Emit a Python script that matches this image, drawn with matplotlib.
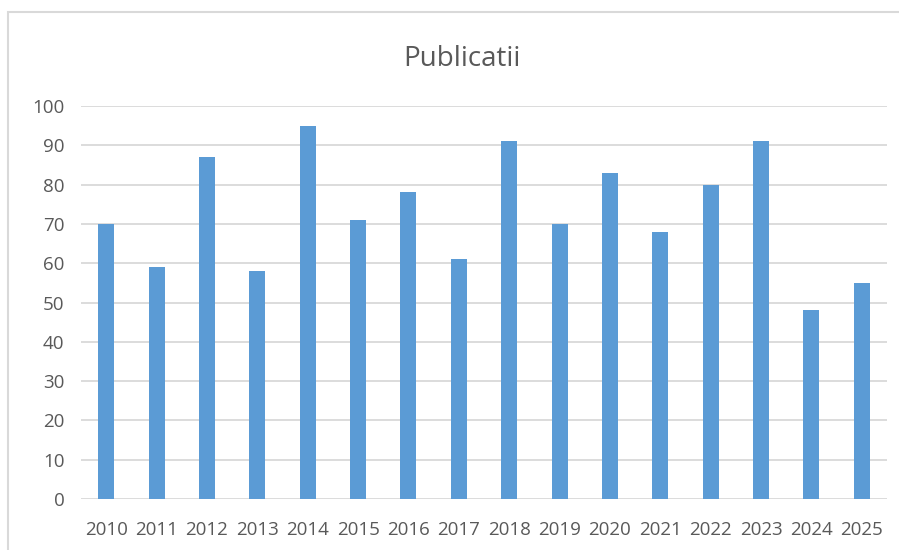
import matplotlib.pyplot as plt
from matplotlib.patches import Rectangle
import numpy as np

years = ["2010", "2011", "2012", "2013", "2014", "2015", "2016", "2017",
         "2018", "2019", "2020", "2021", "2022", "2023", "2024", "2025"]
publicatii = [70, 59, 87, 58, 95, 71, 78, 61, 91, 70, 83, 68, 80, 91, 48, 55]
y_ticks = [0, 10, 20, 30, 40, 50, 60, 70, 80, 90, 100]

plt.rcParams["font.family"] = ["Open Sans", "DejaVu Sans"]

W, H = 899, 550
fig = plt.figure(figsize=(W / 100, H / 100), dpi=100)
fig.patch.set_facecolor("white")

# chart frame (cut off on right/bottom like the screenshot)
fig.add_artist(Rectangle((8 / W, -0.1), 1.2, 1 - 12 / H + 0.1,
                         transform=fig.transFigure, fill=False,
                         edgecolor="#d9d9d9", linewidth=1.5))

ax = fig.add_axes([81 / W, (H - 499) / H, (887 - 81) / W, (499 - 106) / H])
x = np.arange(len(years))
ax.bar(x, publicatii, width=0.32, color="#5b9bd5", zorder=3)

ax.set_xlim(-0.5, len(years) - 0.5)
ax.set_ylim(0, 100)
ax.set_yticks(y_ticks)
ax.set_xticks(x)
ax.set_xticklabels(years)
ax.grid(axis="y", color="#d9d9d9", linewidth=1.3, zorder=0)
for s in ax.spines.values():
    s.set_visible(False)
ax.tick_params(length=0, labelsize=13.5, colors="#595959")
ax.tick_params(axis="x", pad=16)
ax.tick_params(axis="y", pad=12)

fig.text(462 / W, 1 - 59 / H, "Publicatii", ha="center", va="center",
         fontsize=20, color="#595959")

fig.savefig("out.png", dpi=100)
